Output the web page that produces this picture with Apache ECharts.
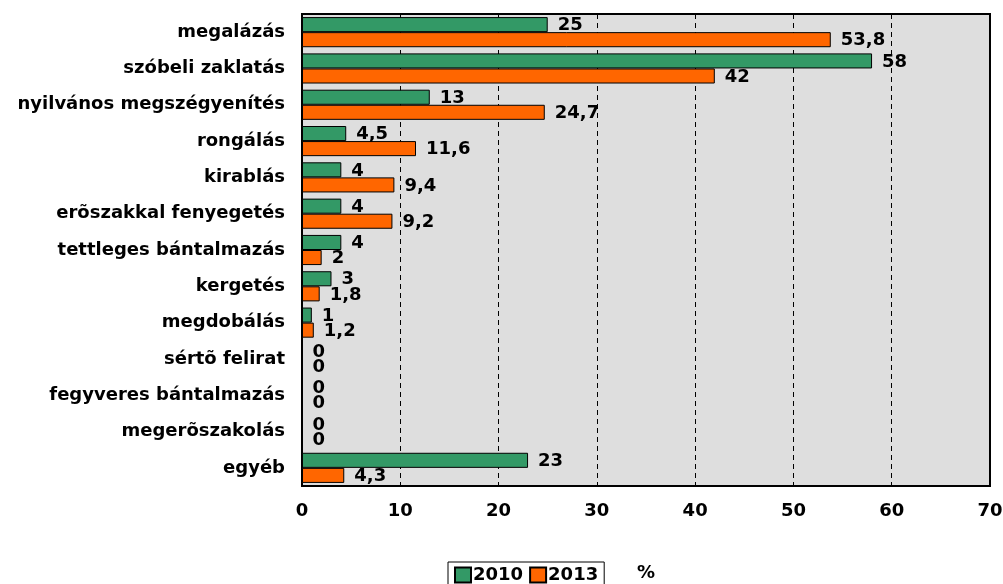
<!DOCTYPE html>
<html lang="hu">
<head>
    <meta charset="UTF-8">
    <title>Chart</title>
    <script src="https://cdn.jsdelivr.net/npm/echarts@6/dist/echarts.min.js"></script>
    <style>
        html, body { margin: 0; padding: 0; background: #fff; }
        #chart { width: 1003px; height: 584px; }
    </style>
</head>
<body>
    <div id="chart"></div>
    <script>
        var categories = ['megalázás', 'szóbeli zaklatás', 'nyilvános megszégyenítés', 'rongálás', 'kirablás',
            'erõszakkal fenyegetés', 'tettleges bántalmazás', 'kergetés', 'megdobálás', 'sértõ felirat',
            'fegyveres bántalmazás', 'megerõszakolás', 'egyéb'];
        var values2010 = [25, 58, 13, 4.5, 4, 4, 4, 3, 1, 0, 0, 0, 23];
        var values2013 = [53.8, 42, 24.7, 11.6, 9.4, 9.2, 2, 1.8, 1.2, 0, 0, 0, 4.3];

        var font = 'DejaVu Sans, Verdana, sans-serif';
        var fs = 18;
        var chart = echarts.init(document.getElementById('chart'));

        function labelFmt(p) {
            return String(p.value).replace('.', ',');
        }

        var option = {
            animation: false,
            textStyle: { fontFamily: font },
            grid: {
                left: 302, right: 13, top: 14, bottom: 98,
                outerBoundsMode: 'none',
                containLabel: false,
                show: true,
                backgroundColor: '#dedede',
                borderColor: '#000',
                borderWidth: 2
            },
            legend: {
                top: 562,
                left: 448,
                data: ['2010', '2013'],
                icon: 'rect',
                itemWidth: 16,
                itemHeight: 15,
                itemGap: 6,
                padding: [4, 6],
                borderColor: '#000',
                borderWidth: 1,
                textStyle: { fontWeight: 'bold', fontSize: fs, color: '#000', padding: [0, 0, 0, -3] }
            },
            xAxis: {
                type: 'value',
                min: 0, max: 70, interval: 10,
                name: '%',
                nameLocation: 'middle',
                nameGap: 78,
                nameTextStyle: { fontWeight: 'bold', fontSize: fs, color: '#000' },
                axisLine: { show: false },
                axisTick: { show: false },
                axisLabel: { fontWeight: 'bold', fontSize: fs, color: '#000', margin: 16 },
                splitLine: { show: true, lineStyle: { color: '#000', type: [5, 4], width: 1 } }
            },
            yAxis: {
                type: 'category',
                inverse: true,
                data: categories,
                axisLine: { show: false },
                axisTick: { show: false },
                axisLabel: { fontWeight: 'bold', fontSize: fs, color: '#000', margin: 17 }
            },
            series: [
                {
                    name: '2010',
                    type: 'bar',
                    data: values2010,
                    barGap: '0%',
                    barCategoryGap: '17%',
                    itemStyle: { color: '#339966', borderColor: '#000', borderWidth: 1 },
                    label: { show: true, position: 'right', offset: [0, 1], distance: 10, fontWeight: 'bold', fontSize: fs, color: '#000', formatter: labelFmt }
                },
                {
                    name: '2013',
                    type: 'bar',
                    data: values2013,
                    itemStyle: { color: '#ff6600', borderColor: '#000', borderWidth: 1 },
                    label: { show: true, position: 'right', offset: [0, 1], distance: 10, fontWeight: 'bold', fontSize: fs, color: '#000', formatter: labelFmt }
                }
            ]
        };
        chart.setOption(option);
    </script>
</body>
</html>
